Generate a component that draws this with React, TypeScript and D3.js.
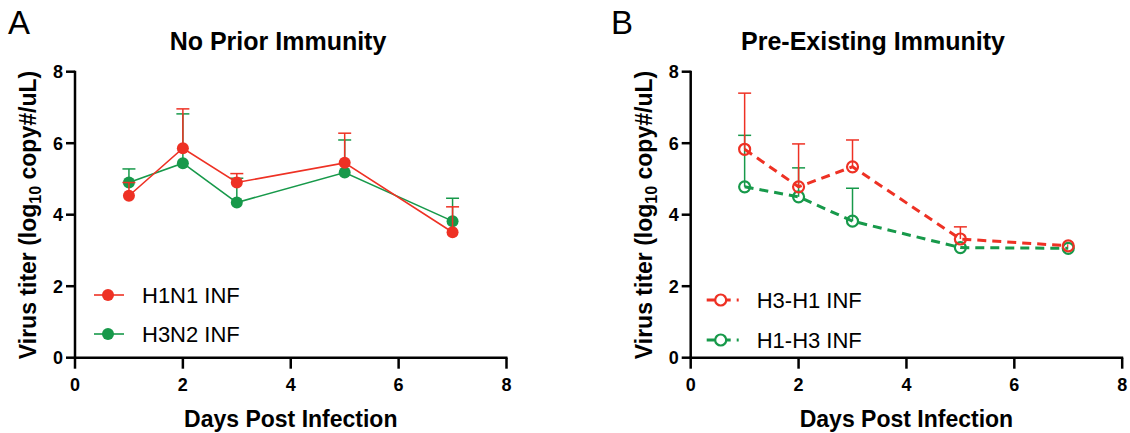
import React from "react";
import * as d3 from "d3";

const days = [1, 2, 3, 5, 7];
const h1n1Mean = [4.53, 5.86, 4.9, 5.45, 3.51];
const h1n1Upper = [4.9, 6.96, 5.15, 6.28, 4.22];
const h3n2Mean = [4.9, 5.44, 4.34, 5.18, 3.82];
const h3n2Upper = [5.28, 6.82, 5.02, 6.09, 4.46];
const h3h1Mean = [5.83, 4.78, 5.34, 3.32, 3.13];
const h3h1Upper = [7.4, 5.98, 6.09, 3.66, 3.13];
const h1h3Mean = [4.78, 4.5, 3.82, 3.08, 3.06];
const h1h3Upper = [6.22, 5.31, 4.74, 3.08, 3.06];
const xTicks = [0, 2, 4, 6, 8];
const yTicks = [0, 2, 4, 6, 8];

const RED = "#EE3124";
const GREEN = "#17994A";
const FONT = "'Liberation Sans', Arial, sans-serif";

type Series = { name: string; mean: number[]; upper: number[]; color: string };

function Panel({ x0, letter, letterX, title, titleX, series, open }: {
  x0: number; letter: string; letterX: number; title: string; titleX: number; series: Series[]; open: boolean;
}) {
  const x = d3.scaleLinear().domain([0, 8]).range([x0, x0 + 431.5]);
  const y = d3.scaleLinear().domain([0, 8]).range([357.7, 71.7]);
  const line = d3.line<number>().x((_, i) => x(days[i])).y((d) => y(d));
  const legY = open ? [300, 340] : [295, 334];
  const legX = x0 + (open ? 30 : 33);
  const ordered = [...series].reverse();
  return (
    <g>
      <text x={letterX} y={34} fontSize={33} fontFamily={FONT}>{letter}</text>
      <text x={titleX} y={50} fontSize={25} fontWeight="bold" textAnchor="middle" fontFamily={FONT}>{title}</text>
      <line x1={x0} x2={x0} y1={y(8) - 1} y2={y(0) + 1} stroke="#000" strokeWidth={2.5} />
      <line x1={x0 - 1} x2={x(8) + 1} y1={y(0)} y2={y(0)} stroke="#000" strokeWidth={2.5} />
      {yTicks.map((t) => (
        <g key={"y" + t}>
          <line x1={x0 - 9} x2={x0} y1={y(t)} y2={y(t)} stroke="#000" strokeWidth={2.5} />
          <text x={x0 - 12} y={y(t) + 6.5} fontSize={18} fontWeight="bold" textAnchor="end" fontFamily={FONT}>{t}</text>
        </g>
      ))}
      {xTicks.map((t) => (
        <g key={"x" + t}>
          <line x1={x(t)} x2={x(t)} y1={y(0)} y2={y(0) + 11} stroke="#000" strokeWidth={2.5} />
          <text x={x(t)} y={391} fontSize={18} fontWeight="bold" textAnchor="middle" fontFamily={FONT}>{t}</text>
        </g>
      ))}
      <text x={(x(0) + x(8)) / 2} y={427} fontSize={23} fontWeight="bold" textAnchor="middle" fontFamily={FONT}>Days Post Infection</text>
      <text transform={`translate(${x0 - 39},215) rotate(-90)`} fontSize={23} fontWeight="bold" textAnchor="middle" fontFamily={FONT}>
        Virus titer (log<tspan fontSize={16} dy={5}>10</tspan><tspan dy={-5}> copy#/uL)</tspan>
      </text>
      {ordered.map((s) => (
        <g key={s.name}>
          {days.map((d, i) => s.upper[i] > s.mean[i] + 0.01 ? (
            <g key={i}>
              <line x1={x(d)} x2={x(d)} y1={y(s.mean[i])} y2={y(s.upper[i])} stroke={s.color} strokeWidth={1.5} />
              <line x1={x(d) - 6.5} x2={x(d) + 6.5} y1={y(s.upper[i])} y2={y(s.upper[i])} stroke={s.color} strokeWidth={1.5} />
            </g>
          ) : null)}
          <path d={line(s.mean) || ""} fill="none" stroke={s.color} strokeWidth={open ? 3 : 1.6} strokeDasharray={open ? "9,6" : undefined} />
          {days.map((d, i) => (
            <circle key={i} cx={x(d)} cy={y(s.mean[i])} r={open ? 5.5 : 6}
              fill={open ? "#fff" : s.color} fillOpacity={open ? 0 : 1} stroke={s.color} strokeWidth={open ? 2.2 : 0} />
          ))}
        </g>
      ))}
      {series.map((s, k) => (
        <g key={"leg" + k}>
          <line x1={legX - 14} x2={legX + (open ? 18 : 16)} y1={legY[k]} y2={legY[k]} stroke={s.color} strokeWidth={open ? 3 : 1.6} strokeDasharray={open ? "9,6" : undefined} />
          <circle cx={legX} cy={legY[k]} r={open ? 5.5 : 6} fill={open ? "#fff" : s.color} stroke={s.color} strokeWidth={open ? 2.2 : 0} />
          <text x={legX + (open ? 36 : 34)} y={legY[k] + 8} fontSize={22} fontFamily={FONT}>{s.name}</text>
        </g>
      ))}
    </g>
  );
}

export default function App() {
  return (
    <svg width={1130} height={433} style={{ position: "absolute", left: 0, top: 0, background: "#fff" }}>
      <rect width={1130} height={433} fill="#fff" />
      <Panel x0={75} letter="A" letterX={8} title="No Prior Immunity" titleX={278} open={false}
        series={[
          { name: "H1N1 INF", mean: h1n1Mean, upper: h1n1Upper, color: RED },
          { name: "H3N2 INF", mean: h3n2Mean, upper: h3n2Upper, color: GREEN },
        ]} />
      <Panel x0={690.7} letter="B" letterX={611} title="Pre-Existing Immunity" titleX={873} open={true}
        series={[
          { name: "H3-H1 INF", mean: h3h1Mean, upper: h3h1Upper, color: RED },
          { name: "H1-H3 INF", mean: h1h3Mean, upper: h1h3Upper, color: GREEN },
        ]} />
    </svg>
  );
}
